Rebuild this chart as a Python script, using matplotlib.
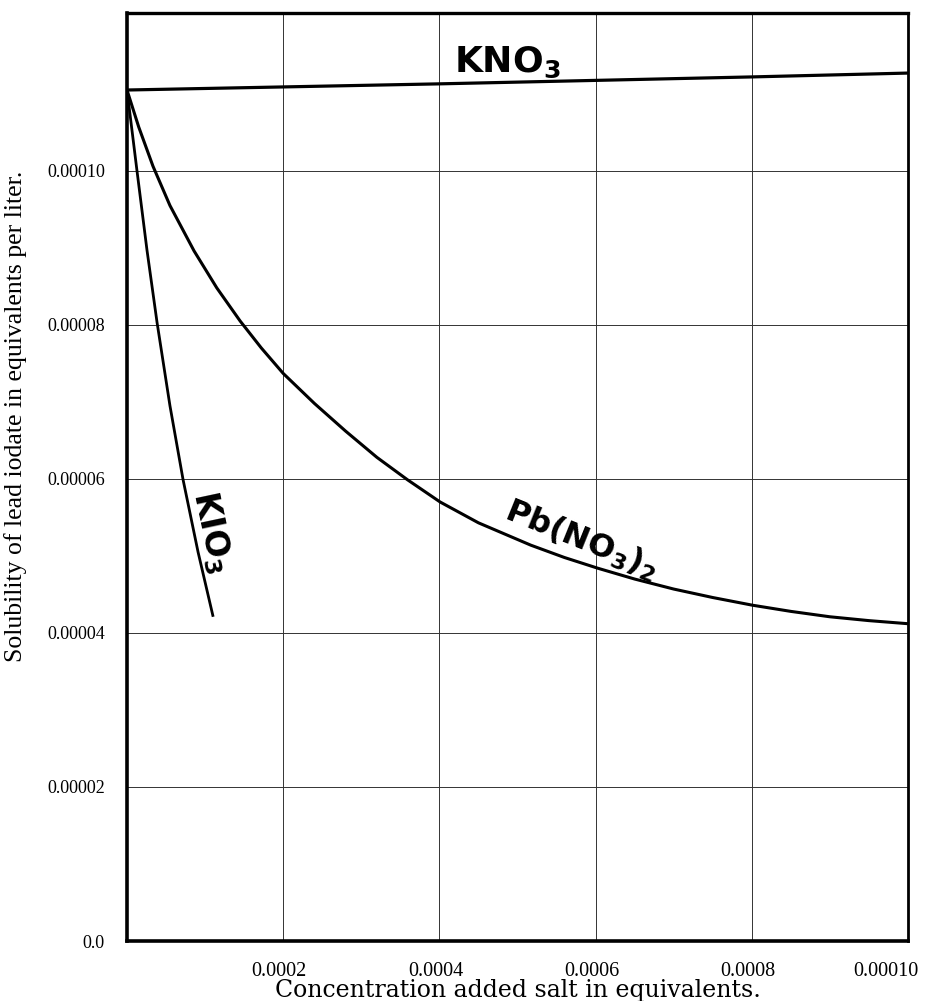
import matplotlib
matplotlib.use("Agg")
import matplotlib.pyplot as plt
import matplotlib.transforms as mtransforms

# ---- data ----
kno3_x = [0.0, 0.0002, 0.0004, 0.0006, 0.0008, 0.0010]
kno3_y = [0.0001105, 0.0001109, 0.0001113, 0.00011175, 0.0001122, 0.0001127]

kio3_x = [0.0, 0.0000128, 0.0000256, 0.0000385, 0.000055, 0.0000718,
          0.000091, 0.0001103]
kio3_y = [0.0001105, 0.0001000, 0.0000897, 0.0000803, 0.0000695, 0.0000599,
          0.0000505, 0.0000421]

pb_x = [0.0, 0.000015, 0.0000333, 0.000055, 0.0000859, 0.000115, 0.0001449,
        0.000172, 0.0002, 0.00024, 0.00028, 0.00032, 0.000359, 0.000401,
        0.00045, 0.000517, 0.00056, 0.000603, 0.00065, 0.0007, 0.00075,
        0.000801, 0.00085, 0.0009, 0.00095, 0.0010]
pb_y = [0.0001105, 0.0001057, 0.0001006, 0.0000955, 0.0000896, 0.0000848,
        0.0000805, 0.0000770, 0.0000737, 0.0000698, 0.0000662, 0.0000628,
        0.0000599, 0.0000570, 0.0000543, 0.0000514, 0.0000498, 0.0000484,
        0.0000470, 0.0000457, 0.0000446, 0.0000436, 0.0000428, 0.0000421,
        0.0000416, 0.0000412]

xticks = [0.0002, 0.0004, 0.0006, 0.0008, 0.0010]
xtick_labels = ["0.0002", "0.0004", "0.0006", "0.0008", "0.00010"]
yticks = [0.0, 0.00002, 0.00004, 0.00006, 0.00008, 0.00010]
ytick_labels = ["0.0", "0.00002", "0.00004", "0.00006", "0.00008", "0.00010"]

xlabel = "Concentration added salt in equivalents."
ylabel = "Solubility of lead iodate in equivalents per liter."

# ---- figure ----
fig = plt.figure(figsize=(9.28, 10.01), dpi=100)
ax = fig.add_axes([127/928, 60/1001, 781/928, 928/1001])

ax.set_xlim(0, 0.0010)
ax.set_ylim(0, 0.0001205)

ax.set_xticks(xticks)
ax.set_xticklabels(xtick_labels, family="Liberation Serif", fontsize=14.5)
ax.set_yticks(yticks)
ax.set_yticklabels(ytick_labels, family="Liberation Serif", fontsize=13)
ax.tick_params(axis="both", length=0)
ax.tick_params(axis="x", pad=15)
ax.tick_params(axis="y", pad=16)

# shift the x labels slightly to the left as in the reference
lab = ax.get_xticklabels()[-1]
lab.set_transform(lab.get_transform() + mtransforms.ScaledTranslation(-22/100, 0, fig.dpi_scale_trans))
for lab in ax.get_xticklabels()[:-1]:
    lab.set_transform(lab.get_transform() + mtransforms.ScaledTranslation(-4/100, 0, fig.dpi_scale_trans))

ax.grid(True, color="#333333", linewidth=0.7)
ax.set_axisbelow(True)

for side, lw in [("left", 2.6), ("bottom", 2.6), ("top", 2.4), ("right", 2.0)]:
    ax.spines[side].set_linewidth(lw)
    ax.spines[side].set_color("black")

ax.plot(kno3_x, kno3_y, color="black", lw=2.3, solid_capstyle="butt")
ax.plot(kio3_x, kio3_y, color="black", lw=2.0, solid_capstyle="butt")
ax.plot(pb_x, pb_y, color="black", lw=2.2, solid_capstyle="butt")

ax.text(0.000487, 0.0001128, r"KNO$_\mathbf{3}$", fontsize=26, fontweight="bold",
        family="DejaVu Sans", ha="center", va="baseline")
ax.text(0.000109, 0.0000531, r"KIO$_\mathbf{3}$", fontsize=24, fontweight="bold",
        family="DejaVu Sans", ha="center", va="center", rotation=-78,
        rotation_mode="anchor")
ax.text(0.000582, 0.0000521, r"Pb(NO$_\mathbf{3}$)$_\mathbf{2}$", fontsize=23,
        fontweight="bold", family="DejaVu Sans", ha="center", va="center",
        rotation=-22, rotation_mode="anchor")

ax.set_xlabel(xlabel, family="DejaVu Serif", fontsize=17)
ax.xaxis.set_label_coords(0.5, -0.041)
ax.set_ylabel(ylabel, family="Liberation Serif", fontsize=18.5)
ax.yaxis.set_label_coords(-0.128, 0.565)

fig.savefig("out.png", dpi=100)
